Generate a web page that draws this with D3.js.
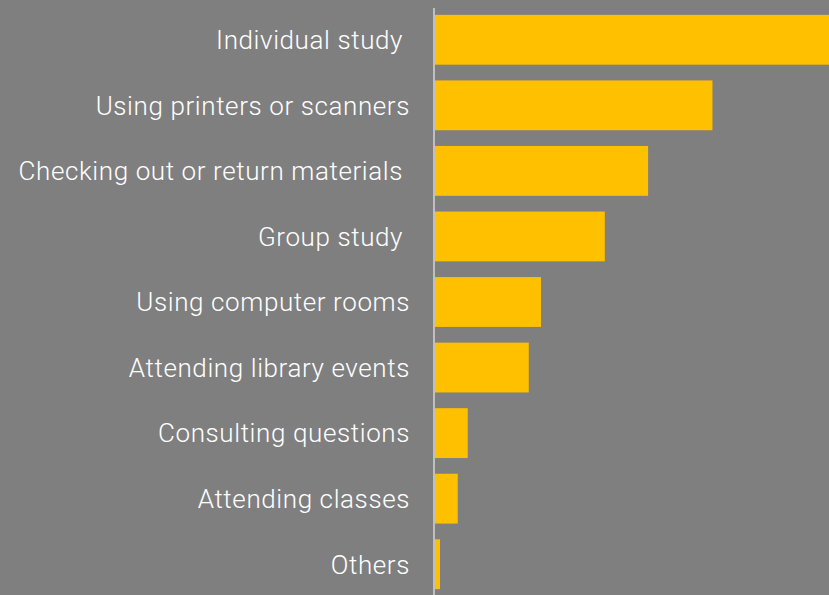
<!DOCTYPE html>
<html>
<head>
<meta charset="utf-8">
<script src="https://cdn.jsdelivr.net/npm/d3@7"></script>
<style>
  html, body { margin: 0; padding: 0; background: #7f7f7f; }
  svg { display: block; }
  .label { fill: #ffffff; font-family: Roboto, "Noto Sans", sans-serif; font-weight: 300; font-size: 26px; letter-spacing: 0.6px; white-space: pre; }
</style>
</head>
<body>
<div id="chart"></div>
<script>
// categories (top to bottom) and their values (percent of respondents)
const categories = [
    'Individual study ',
    'Using printers or scanners',
    'Checking out or return materials ',
    'Group study ',
    'Using computer rooms',
    'Attending library events',
    'Consulting questions',
    'Attending classes',
    'Others'
];
const values = [71, 50, 38.4, 30.6, 19.1, 16.9, 5.9, 4.1, 0.9];

const width = 829;
const height = 595;
const axisX = 434;

const svg = d3.select('#chart').append('svg')
    .attr('width', width)
    .attr('height', height)
    .style('background-color', '#7f7f7f');

const yScale = d3.scaleBand()
    .domain(categories)
    .range([7, 597])
    .paddingInner(0.24)
    .paddingOuter(0.12);

const xScale = d3.scaleLinear()
    .domain([0, 71])
    .range([axisX + 1, width]);

const data = categories.map((c, i) => ({ name: c, value: values[i] }));

// bars
svg.selectAll('.bar')
    .data(data)
    .join('rect')
    .attr('class', 'bar')
    .attr('x', xScale(0))
    .attr('y', d => yScale(d.name))
    .attr('width', d => xScale(d.value) - xScale(0))
    .attr('height', yScale.bandwidth())
    .attr('fill', '#ffc000');

// category labels
svg.selectAll('.label')
    .data(data)
    .join('text')
    .attr('class', 'label')
    .attr('xml:space', 'preserve')
    .attr('x', 410)
    .attr('y', d => yScale(d.name) + yScale.bandwidth() / 2)
    .attr('dy', '0.36em')
    .attr('text-anchor', 'end')
    .text(d => d.name);

// vertical axis line
svg.append('line')
    .attr('x1', axisX)
    .attr('x2', axisX)
    .attr('y1', 8)
    .attr('y2', height)
    .attr('stroke', '#d4d4d4')
    .attr('stroke-width', 1.5);
</script>
</body>
</html>
